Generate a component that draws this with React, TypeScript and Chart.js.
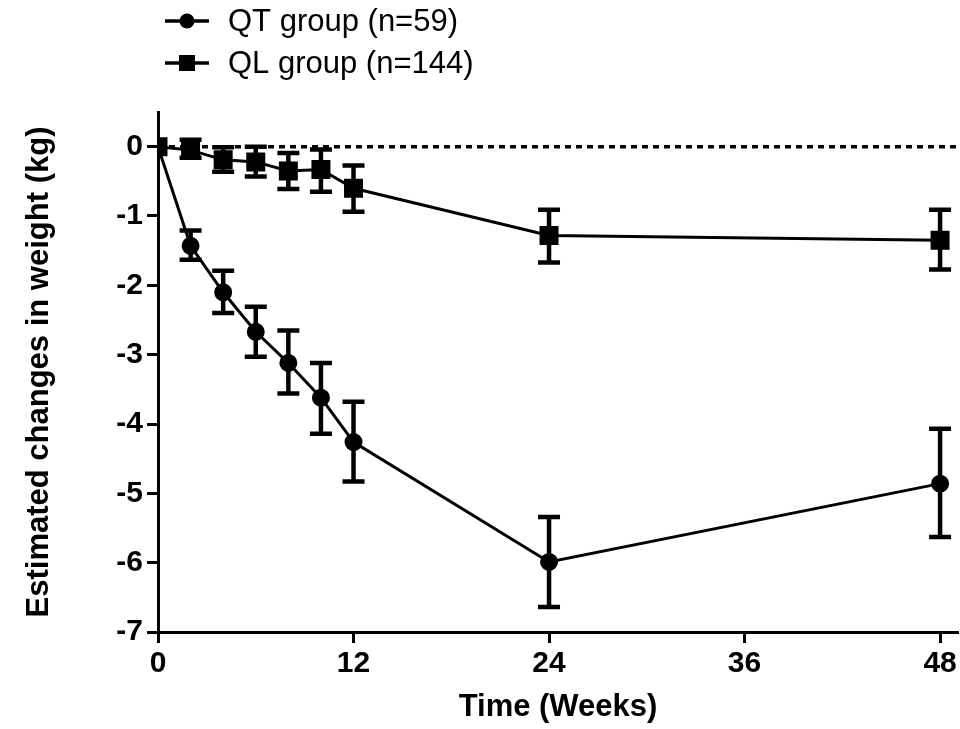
import React, { useEffect, useRef } from "react";
import { Chart, registerables } from "chart.js";

Chart.register(...registerables);

// ---- Data ----
const weeks = [0, 2, 4, 6, 8, 10, 12, 24, 48];

const qtMean = [0, -1.43, -2.1, -2.67, -3.12, -3.62, -4.26, -5.99, -4.86];
const qtUpper = [0, -1.21, -1.79, -2.31, -2.65, -3.12, -3.68, -5.34, -4.07];
const qtLower = [0, -1.63, -2.4, -3.03, -3.56, -4.14, -4.83, -6.64, -5.63];

const qlMean = [0, -0.05, -0.19, -0.22, -0.35, -0.33, -0.6, -1.28, -1.35];
const qlUpper = [0, 0.1, -0.01, 0.0, -0.09, -0.04, -0.27, -0.91, -0.91];
const qlLower = [0, -0.16, -0.36, -0.43, -0.61, -0.65, -0.94, -1.67, -1.77];

const seriesLabels = ["QT group (n=59)", "QL group (n=144)"];
const xTickValues = [0, 12, 24, 36, 48];
const yTickValues = [0, -1, -2, -3, -4, -5, -6, -7];
const referenceValue = 0;
const xTitle = "Time (Weeks)";
const yTitle = "Estimated changes in weight (kg)";

const TICK_FONT = '"Liberation Sans Narrow", "Arial Narrow", "Liberation Sans", Arial, sans-serif';
const TEXT_FONT = '"Liberation Sans", Arial, Helvetica, sans-serif';

const errorBarPlugin = {
  id: "errorBars",
  afterDatasetsDraw(chart: any) {
    const ctx = chart.ctx;
    const yScale = chart.scales.y;
    chart.data.datasets.forEach((ds: any, i: number) => {
      const meta = chart.getDatasetMeta(i);
      meta.data.forEach((el: any, j: number) => {
        const hi = ds.errHigh[j];
        const lo = ds.errLow[j];
        if (hi === lo) return;
        const x = el.x;
        const yHi = yScale.getPixelForValue(hi);
        const yLo = yScale.getPixelForValue(lo);
        ctx.save();
        ctx.strokeStyle = "#000";
        ctx.lineWidth = 4.5;
        ctx.beginPath();
        ctx.moveTo(x, yHi);
        ctx.lineTo(x, yLo);
        ctx.stroke();
        ctx.beginPath();
        ctx.moveTo(x - 11, yHi);
        ctx.lineTo(x + 11, yHi);
        ctx.moveTo(x - 11, yLo);
        ctx.lineTo(x + 11, yLo);
        ctx.stroke();
        ctx.restore();
      });
    });
  },
};

const zeroLinePlugin = {
  id: "zeroLine",
  beforeDatasetsDraw(chart: any) {
    const ctx = chart.ctx;
    const y = chart.scales.y.getPixelForValue(referenceValue);
    const { left, right } = chart.chartArea;
    ctx.save();
    ctx.strokeStyle = "#000";
    ctx.lineWidth = 3.5;
    ctx.setLineDash([6, 5]);
    ctx.beginPath();
    ctx.moveTo(left, y);
    ctx.lineTo(right, y);
    ctx.stroke();
    ctx.restore();
  },
};

const legendPlugin = {
  id: "customLegend",
  afterDraw(chart: any) {
    const ctx = chart.ctx;
    const rows = [21, 63];
    chart.data.datasets.forEach((ds: any, i: number) => {
      const y = rows[i];
      ctx.save();
      ctx.strokeStyle = "#000";
      ctx.fillStyle = "#000";
      ctx.lineWidth = 3.5;
      ctx.beginPath();
      ctx.moveTo(165, y);
      ctx.lineTo(209, y);
      ctx.stroke();
      if (ds.pointStyle === "rect") {
        ctx.fillRect(187 - 8, y - 8, 16, 16);
      } else {
        ctx.beginPath();
        ctx.arc(187, y, 7.5, 0, Math.PI * 2);
        ctx.fill();
      }
      ctx.font = `31px ${TEXT_FONT}`;
      ctx.textBaseline = "middle";
      ctx.textAlign = "left";
      ctx.fillText(ds.label, 228, y + 1);
      ctx.restore();
    });
  },
};

export default function App() {
  const canvasRef = useRef<HTMLCanvasElement | null>(null);

  useEffect(() => {
    if (!canvasRef.current) return;
    const chart = new Chart(canvasRef.current, {
      type: "line",
      data: {
        datasets: [
          {
            label: seriesLabels[0],
            data: weeks.map((w, i) => ({ x: w, y: qtMean[i] })),
            errHigh: qtUpper,
            errLow: qtLower,
            borderColor: "#000",
            backgroundColor: "#000",
            pointBackgroundColor: "#000",
            pointBorderColor: "#000",
            borderWidth: 3,
            pointRadius: 7.5,
            pointStyle: "circle",
            tension: 0,
            fill: false,
          } as any,
          {
            label: seriesLabels[1],
            data: weeks.map((w, i) => ({ x: w, y: qlMean[i] })),
            errHigh: qlUpper,
            errLow: qlLower,
            borderColor: "#000",
            backgroundColor: "#000",
            pointBackgroundColor: "#000",
            pointBorderColor: "#000",
            borderWidth: 3,
            pointRadius: 11.3,
            pointStyle: "rect",
            tension: 0,
            fill: false,
          } as any,
        ],
      },
      options: {
        responsive: false,
        animation: false,
        layout: { autoPadding: false, padding: { top: 112, right: 2, left: 0, bottom: 0 } },
        plugins: {
          legend: { display: false },
          tooltip: { enabled: false },
        },
        scales: {
          x: {
            type: "linear",
            min: 0,
            max: 49.1,
            afterBuildTicks: (s: any) => {
              s.ticks = xTickValues.map((v) => ({ value: v }));
            },
            afterFit: (s: any) => {
              s.height = 97;
            },
            grid: {
              display: true,
              drawOnChartArea: false,
              drawTicks: true,
              tickLength: 11,
              tickWidth: 3,
              tickColor: "#000",
            },
            border: { display: true, width: 3, color: "#000" },
            ticks: {
              color: "#000",
              font: { family: TICK_FONT, size: 30, weight: "bold" },
              padding: 3,
              maxRotation: 0,
              autoSkip: false,
            },
            title: {
              display: true,
              text: xTitle,
              color: "#000",
              font: { family: TEXT_FONT, size: 31, weight: "bold" },
              padding: { top: 0, bottom: 3 },
            },
          },
          y: {
            type: "linear",
            min: -7,
            max: 0.5,
            afterBuildTicks: (s: any) => {
              s.ticks = yTickValues.map((v) => ({ value: v }));
            },
            afterFit: (s: any) => {
              s.width = 158;
            },
            grid: {
              display: true,
              drawOnChartArea: false,
              drawTicks: true,
              tickLength: 11,
              tickWidth: 3,
              tickColor: "#000",
            },
            border: { display: true, width: 3, color: "#000" },
            ticks: {
              color: "#000",
              font: { family: TICK_FONT, size: 30, weight: "bold" },
              padding: 4,
              autoSkip: false,
            },
            title: {
              display: true,
              text: yTitle,
              color: "#000",
              font: { family: TEXT_FONT, size: 31, weight: "bold" },
              padding: { top: 21, bottom: 0 },
            },
          },
        },
      } as any,
      plugins: [zeroLinePlugin, errorBarPlugin, legendPlugin],
    });
    return () => chart.destroy();
  }, []);

  return (
    <div style={{ position: "fixed", left: 0, top: 0, width: 960, height: 729, background: "#fff" }}>
      <canvas ref={canvasRef} width={960} height={729} style={{ display: "block" }} />
    </div>
  );
}
